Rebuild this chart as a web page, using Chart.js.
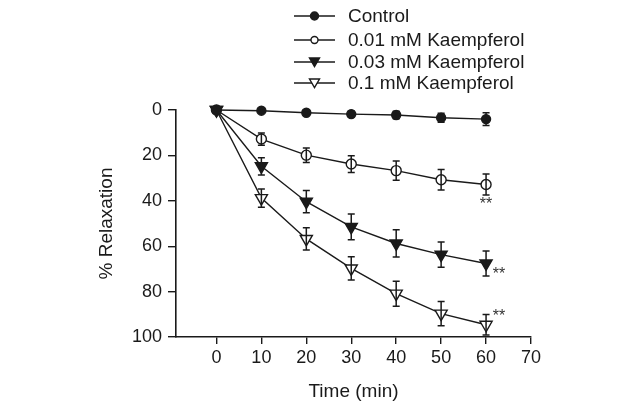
<!DOCTYPE html>
<html>
<head>
<meta charset="utf-8">
<script src="https://cdn.jsdelivr.net/npm/chart.js@4.4.0/dist/chart.umd.min.js"></script>
<style>
  html, body { margin: 0; padding: 0; background: #fff; }
  #wrap { width: 642px; height: 403px; }
</style>
</head>
<body>
<div id="wrap"><canvas id="chart" width="642" height="403"></canvas></div>
<script>
var times = [0, 10, 20, 30, 40, 50, 60];
var xTicks = [0, 10, 20, 30, 40, 50, 60, 70];
var yTicks = [0, 20, 40, 60, 80, 100];

var control = [0, 0.3, 1.2, 1.8, 2.2, 3.4, 4];
var controlErr = [0, 0.8, 1, 1.2, 1.6, 2, 2.8];
var k001 = [0, 12.8, 19.9, 23.8, 26.7, 30.7, 32.8];
var k001Err = [0, 2.7, 3.2, 3.7, 4.2, 4.5, 4.6];
var k003 = [0, 24.8, 40.4, 51.5, 58.8, 63.7, 67.6];
var k003Err = [0, 3.8, 4.9, 5.7, 6, 5.6, 5.5];
var k01 = [0, 38.8, 56.8, 69.8, 80.9, 89.7, 94.6];
var k01Err = [0, 4, 4.9, 5.1, 5.5, 5.3, 4.5];

var labels = ['Control', '0.01 mM Kaempferol', '0.03 mM Kaempferol', '0.1 mM Kaempferol'];
// significance marks: [series index, x, y]
var stars = [[1, 60, 41.5], [2, 61.5, 72.3], [3, 61.5, 91.2]];

var ink = '#1a1a1a';
var fam = '"Liberation Sans", Arial, sans-serif';

function pts(arr) {
  return times.map(function (t, i) { return { x: t, y: arr[i] }; });
}

var errs = [controlErr, k001Err, k003Err, k01Err];

var errorBars = {
  id: 'errorBars',
  afterDatasetsDraw: function (chart) {
    var ctx = chart.ctx;
    var xs = chart.scales.x, ys = chart.scales.y;
    ctx.save();
    ctx.strokeStyle = ink;
    ctx.lineWidth = 1.5;
    chart.data.datasets.forEach(function (ds, di) {
      ds.data.forEach(function (p, i) {
        var e = errs[di][i];
        if (!e) return;
        var px = xs.getPixelForValue(p.x);
        var y1 = ys.getPixelForValue(p.y - e);
        var y2 = ys.getPixelForValue(p.y + e);
        ctx.beginPath();
        ctx.moveTo(px, y1); ctx.lineTo(px, y2);
        ctx.moveTo(px - 3.5, y1); ctx.lineTo(px + 3.5, y1);
        ctx.moveTo(px - 3.5, y2); ctx.lineTo(px + 3.5, y2);
        ctx.stroke();
      });
    });
    // asterisks
    ctx.fillStyle = '#333';
    ctx.font = '16px ' + fam;
    ctx.textBaseline = 'middle';
    stars.forEach(function (s) {
      ctx.textAlign = s[0] === 1 ? 'center' : 'left';
      ctx.fillText('**', xs.getPixelForValue(s[1]), ys.getPixelForValue(s[2]));
    });
    ctx.restore();
  }
};

var legendPlugin = {
  id: 'legendBox',
  afterDraw: function (chart) {
    var ctx = chart.ctx;
    var rows = [16, 40, 62, 83];
    ctx.save();
    chart.data.datasets.forEach(function (ds, i) {
      var y = rows[i];
      ctx.strokeStyle = ink;
      ctx.lineWidth = 1.4;
      ctx.beginPath();
      ctx.moveTo(294, y); ctx.lineTo(335, y);
      ctx.stroke();
      ctx.fillStyle = ds.pointBackgroundColor;
      ctx.beginPath();
      if (ds.pointStyle === 'circle') {
        ctx.arc(314.5, y, i === 0 ? 4 : 3.5, 0, Math.PI * 2);
      } else {
        ctx.moveTo(309.5, y - 4); ctx.lineTo(319.5, y - 4); ctx.lineTo(314.5, y + 4.5); ctx.closePath();
      }
      ctx.fill();
      ctx.stroke();
      ctx.fillStyle = ink;
      ctx.font = '19px ' + fam;
      ctx.textAlign = 'left';
      ctx.textBaseline = 'middle';
      ctx.fillText(labels[i], 348, y + 1);
    });
    ctx.restore();
  }
};

function series(i, data, style, filled, radius) {
  return {
    label: labels[i],
    data: pts(data),
    borderColor: ink,
    borderWidth: 1.4,
    pointStyle: style,
    rotation: style === 'triangle' ? 180 : 0,
    pointRadius: radius,
    pointBorderWidth: 1.4,
    pointBorderColor: ink,
    pointBackgroundColor: filled ? ink : '#fff',
    tension: 0,
    clip: false
  };
}

var tickFont = { family: fam, size: 18 };
var titleFont = { family: fam, size: 19 };

new Chart(document.getElementById('chart'), {
  type: 'line',
  data: {
    datasets: [
      series(0, control, 'circle', true, 4.5),
      series(1, k001, 'circle', false, 5),
      series(2, k003, 'triangle', true, 7),
      series(3, k01, 'triangle', false, 7)
    ]
  },
  options: {
    responsive: false,
    animation: false,
    layout: { padding: { top: 110, right: 111, left: 0, bottom: 0 } },
    plugins: { legend: { display: false }, tooltip: { enabled: false } },
    scales: {
      x: {
        type: 'linear',
        min: -9,
        max: 70,
        afterBuildTicks: function (s) { s.ticks = xTicks.map(function (v) { return { value: v }; }); },
        afterFit: function (s) { s.height = 66; },
        grid: { display: true, drawOnChartArea: false, drawTicks: true, tickLength: 7, color: ink, lineWidth: 1.4 },
        border: { display: true, color: ink, width: 1.6 },
        ticks: { color: ink, font: tickFont, padding: 3, maxRotation: 0 },
        title: { display: true, text: 'Time (min)', color: ink, font: titleFont, padding: { top: 1, bottom: 0 } }
      },
      y: {
        type: 'linear',
        reverse: true,
        min: 0,
        max: 100,
        afterBuildTicks: function (s) { s.ticks = yTicks.map(function (v) { return { value: v }; }); },
        afterFit: function (s) { s.width = 176; },
        grid: { display: true, drawOnChartArea: false, drawTicks: true, tickLength: 8, color: ink, lineWidth: 1.4 },
        border: { display: true, color: ink, width: 1.6 },
        ticks: { color: ink, font: tickFont, padding: 6 },
        title: { display: true, text: '% Relaxation', color: ink, font: titleFont, padding: { top: 95, bottom: 0 } }
      }
    }
  },
  plugins: [errorBars, legendPlugin]
});
</script>
</body>
</html>
